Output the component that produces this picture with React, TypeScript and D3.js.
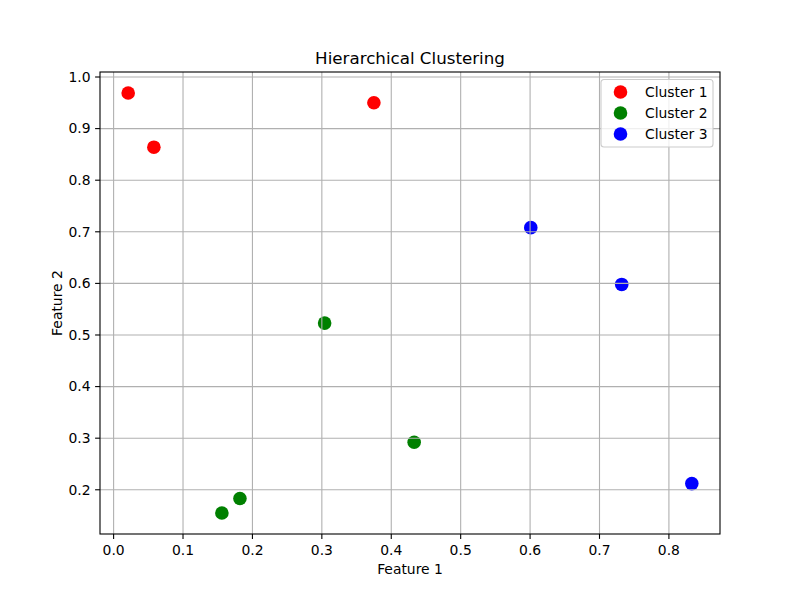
import React from 'react';
import * as d3 from 'd3';

const clusterNames = ['Cluster 1', 'Cluster 2', 'Cluster 3'];
const clusterColors = ['#ff0000', '#008000', '#0000ff'];

// feature 1 / feature 2 per cluster
const cluster1X = [0.021, 0.058, 0.375];
const cluster1Y = [0.969, 0.864, 0.95];
const cluster2X = [0.304, 0.433, 0.182, 0.156];
const cluster2Y = [0.523, 0.292, 0.183, 0.155];
const cluster3X = [0.601, 0.732, 0.833];
const cluster3Y = [0.708, 0.598, 0.212];

const xTicks = [0, 0.1, 0.2, 0.3, 0.4, 0.5, 0.6, 0.7, 0.8];
const yTicks = [0.2, 0.3, 0.4, 0.5, 0.6, 0.7, 0.8, 0.9, 1.0];

const width = 800;
const height = 600;
const margin = { top: 72, right: 80, bottom: 66, left: 100 };
const font = 'DejaVu Sans, sans-serif';

export default function App() {
  const series = [
    { xs: cluster1X, ys: cluster1Y },
    { xs: cluster2X, ys: cluster2Y },
    { xs: cluster3X, ys: cluster3Y },
  ];
  const allX = series.flatMap((s) => s.xs);
  const allY = series.flatMap((s) => s.ys);

  // matplotlib style 5% margins
  const pad = (v: number[]) => {
    const [lo, hi] = d3.extent(v) as [number, number];
    const m = (hi - lo) * 0.05;
    return [lo - m, hi + m];
  };

  const innerW = width - margin.left - margin.right;
  const innerH = height - margin.top - margin.bottom;
  const x = d3.scaleLinear().domain(pad(allX)).range([0, innerW]);
  const y = d3.scaleLinear().domain(pad(allY)).range([innerH, 0]);
  const fmt = d3.format('.1f');

  return (
    <svg
      width={width}
      height={height}
      style={{ position: 'absolute', left: 0, top: 0, background: '#fff' }}
      fontFamily={font}
    >
      <rect width={width} height={height} fill="#fff" />
      <text x={margin.left + innerW / 2} y={63.5} textAnchor="middle" fontSize={16.7}>
        Hierarchical Clustering
      </text>
      <g transform={`translate(${margin.left},${margin.top})`}>
        {/* points */}
        {series.map((s, i) =>
          s.xs.map((v, j) => (
            <circle key={`${i}-${j}`} cx={x(v)} cy={y(s.ys[j])} r={6.8} fill={clusterColors[i]} />
          ))
        )}
        {/* grid */}
        {xTicks.map((t) => (
          <line key={`gx${t}`} x1={x(t)} x2={x(t)} y1={0} y2={innerH} stroke="#b0b0b0" strokeWidth={1.1} />
        ))}
        {yTicks.map((t) => (
          <line key={`gy${t}`} x1={0} x2={innerW} y1={y(t)} y2={y(t)} stroke="#b0b0b0" strokeWidth={1.1} />
        ))}
        {/* spines */}
        <rect width={innerW} height={innerH} fill="none" stroke="#000" strokeWidth={1.1} />
        {/* x ticks */}
        {xTicks.map((t) => (
          <g key={`tx${t}`} transform={`translate(${x(t)},${innerH})`}>
            <line y2={4.9} stroke="#000" strokeWidth={1.1} />
            <text y={20.5} textAnchor="middle" fontSize={13.9}>
              {fmt(t)}
            </text>
          </g>
        ))}
        {/* y ticks */}
        {yTicks.map((t) => (
          <g key={`ty${t}`} transform={`translate(0,${y(t)})`}>
            <line x2={-4.9} stroke="#000" strokeWidth={1.1} />
            <text x={-9.5} dy="0.35em" textAnchor="end" fontSize={13.9}>
              {fmt(t)}
            </text>
          </g>
        ))}
        {/* legend */}
        <g transform={`translate(${innerW - 119},${7.5})`}>
          <rect
            width={112}
            height={67.5}
            rx={3}
            fill="#fff"
            fillOpacity={0.8}
            stroke="#cccccc"
            strokeWidth={1.1}
          />
          {clusterNames.map((name, i) => (
            <g key={name} transform={`translate(0,${12.5 + i * 21})`}>
              <circle cx={19.5} cy={0} r={6.8} fill={clusterColors[i]} />
              <text x={44} dy="0.35em" fontSize={13.9}>
                {name}
              </text>
            </g>
          ))}
        </g>
      </g>
      <text x={margin.left + innerW / 2} y={574} textAnchor="middle" fontSize={13.9}>
        Feature 1
      </text>
      <text
        transform={`translate(62,${margin.top + innerH / 2}) rotate(-90)`}
        textAnchor="middle"
        fontSize={13.9}
      >
        Feature 2
      </text>
    </svg>
  );
}
